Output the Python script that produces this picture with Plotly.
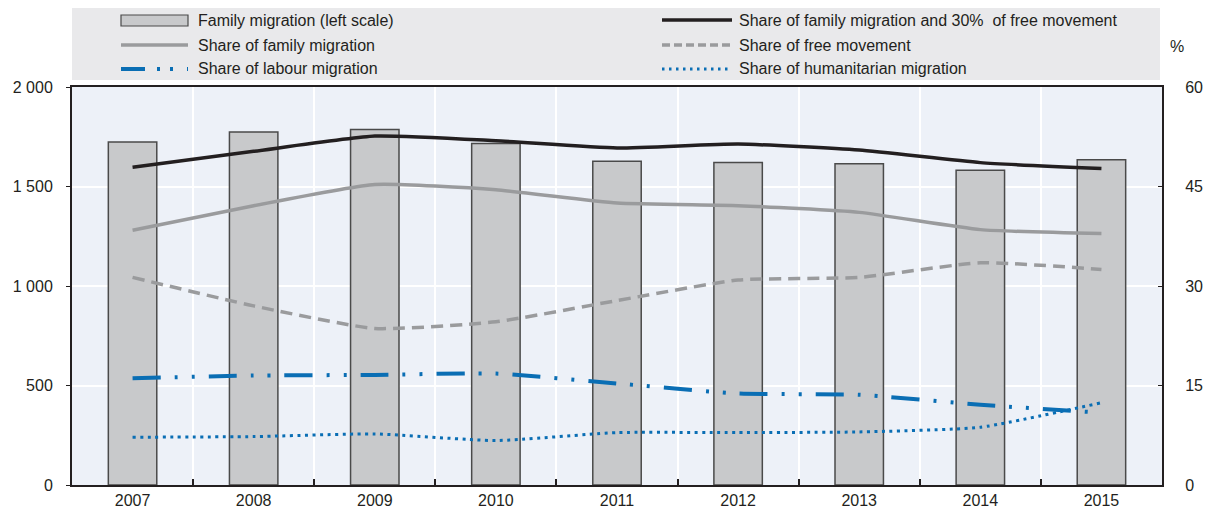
import plotly.graph_objects as go

years = [2007, 2008, 2009, 2010, 2011, 2012, 2013, 2014, 2015]
family_migration = [1724, 1774, 1786, 1716, 1627, 1621, 1614, 1582, 1634]
share_family_free30 = [47.9, 50.3, 52.6, 51.9, 50.8, 51.4, 50.5, 48.6, 47.7]
share_family = [38.4, 42.1, 45.3, 44.5, 42.5, 42.1, 41.1, 38.5, 37.9]
share_free = [31.3, 27.0, 23.6, 24.6, 27.8, 30.9, 31.3, 33.5, 32.5]
share_labour = [16.1, 16.5, 16.6, 16.8, 15.3, 13.8, 13.6, 12.1, 10.9]
share_humanitarian = [7.2, 7.3, 7.7, 6.7, 7.9, 7.9, 8.0, 8.7, 12.4]

left_ticks = [0, 500, 1000, 1500, 2000]
left_ticktext = ["0", "500", "1 000", "1 500", "2 000"]
right_ticks = [0, 15, 30, 45, 60]

W, H = 1207, 511
L, R, T, B = 72, 45, 87, 26
PW, PH = W - L - R, H - T - B

def px(x):
    return (x - L) / PW

def py(y):
    return (H - B - y) / PH

BLUE = "#0a6eb4"
GREY = "#9a9b9d"
BLACK = "#231f20"
FONT = "Liberation Sans, Arial, sans-serif"

fig = go.Figure()
fig.add_trace(go.Bar(x=years, y=family_migration, width=0.4,
                     marker=dict(color="#c8c9cb", line=dict(color="#4a4a4a", width=1.5)),
                     yaxis="y", showlegend=False))

line_specs = [
    (share_family_free30, BLACK, 3.5, "solid"),
    (share_family, GREY, 3.5, "solid"),
    (share_free, GREY, 3.5, "12px,7px"),
    (share_labour, BLUE, 4, "28px,14px,3px,14px,3px,14px"),
    (share_humanitarian, BLUE, 3, "3px,4.5px"),
]
for vals, col, w, dash in line_specs:
    fig.add_trace(go.Scatter(x=years, y=vals, yaxis="y2", mode="lines", showlegend=False,
                             line=dict(color=col, width=w, dash=dash, shape="spline", smoothing=0.5)))

shapes = []
annotations = []
# legend background
shapes.append(dict(type="rect", xref="paper", yref="paper", x0=px(72), x1=px(1160), y0=py(80), y1=py(8),
                   fillcolor="#e9e9eb", line=dict(width=0), layer="below"))
rows = [20, 45, 69]
c1s, c1e, c1t = 121, 188, 196
c2s, c2e, c2t = 662, 732, 737
# legend symbols
shapes.append(dict(type="rect", xref="paper", yref="paper", x0=px(c1s), x1=px(c1e), y0=py(26), y1=py(15),
                   fillcolor="#c8c9cb", line=dict(color="#4a4a4a", width=1.2)))
legend_lines = [
    (c2s, c2e, rows[0], BLACK, 3.5, "solid"),
    (c1s, c1e, rows[1], GREY, 3.5, "solid"),
    (c2s, c2e, rows[1], GREY, 3.5, "8px,4px"),
    (c1s, c1e, rows[2], BLUE, 4, "24px,12px,3px,10px,3px,14px"),
    (c2s, c2e, rows[2], BLUE, 3, "2.5px,4.5px"),
]
for x0, x1, y, col, w, dash in legend_lines:
    shapes.append(dict(type="line", xref="paper", yref="paper", x0=px(x0), x1=px(x1), y0=py(y), y1=py(y),
                       line=dict(color=col, width=w, dash=dash)))
legend_texts = [
    (c1t, rows[0], "Family migration (left scale)"),
    (c2t, rows[0], "Share of family migration and 30%  of free movement"),
    (c1t, rows[1], "Share of family migration"),
    (c2t, rows[1], "Share of free movement"),
    (c1t, rows[2], "Share of labour migration"),
    (c2t, rows[2], "Share of humanitarian migration"),
]
for x, y, t in legend_texts:
    annotations.append(dict(xref="paper", yref="paper", x=px(x), y=py(y), text=t.replace("  ", "&nbsp; "),
                            showarrow=False, xanchor="left", yanchor="middle",
                            font=dict(size=16, color="#231f20", family=FONT)))
annotations.append(dict(xref="paper", yref="paper", x=px(1177), y=py(46), text="%", showarrow=False,
                        xanchor="center", yanchor="middle", font=dict(size=16, color="#231f20", family=FONT)))

fig.update_layout(
    width=W, height=H,
    margin=dict(l=L, r=R, t=T, b=B, autoexpand=False),
    paper_bgcolor="white", plot_bgcolor="#edf1f8",
    font=dict(family=FONT, size=16, color="#231f20"),
    showlegend=False,
    shapes=shapes, annotations=annotations,
    xaxis=dict(range=[2006.5, 2015.5], tickvals=years, ticktext=[str(y) for y in years],
               showgrid=False, ticks="", showline=True, linecolor=BLACK, linewidth=2, mirror=True,
               zeroline=False, ticklabelstandoff=0, automargin=False,
               minor=dict(tickvals=[y + 0.5 for y in years[:-1]], showgrid=True, gridcolor="white",
                          gridwidth=2, ticks="inside", ticklen=6, tickcolor=BLACK, tickwidth=1.5)),
    yaxis=dict(range=[0, 2000], tickvals=left_ticks, ticktext=left_ticktext, showgrid=True,
               gridcolor="white", gridwidth=2, zeroline=False, showline=True, linecolor=BLACK,
               linewidth=2, ticks="outside", ticklen=4, tickcolor=BLACK, ticklabelstandoff=10,
               automargin=False),
    yaxis2=dict(range=[0, 60], tickvals=right_ticks, overlaying="y", side="right", showgrid=False,
                zeroline=False, showline=True, linecolor=BLACK, linewidth=2, ticks="inside",
                ticklen=4, tickcolor=BLACK, ticklabelstandoff=18, automargin=False),
)

fig.write_html("out.html", config={"displayModeBar": False},
               post_script="document.body.style.margin='0';document.body.style.overflow='hidden';")
